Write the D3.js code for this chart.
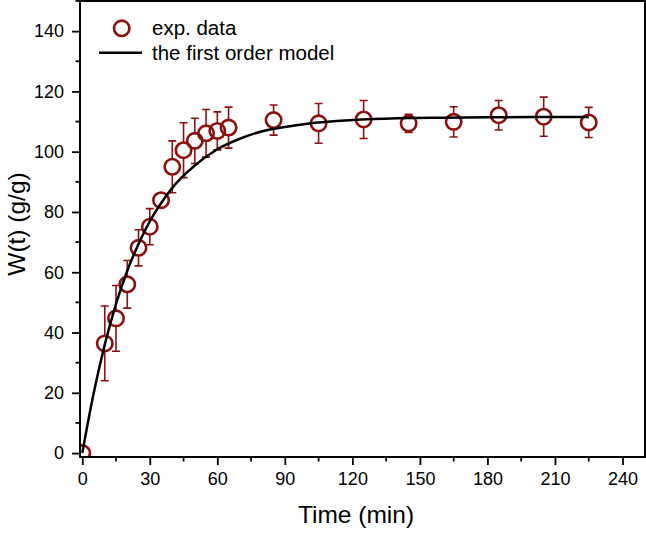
<!DOCTYPE html>
<html>
<head>
<meta charset="utf-8">
<script src="https://cdn.jsdelivr.net/npm/d3@7"></script>
<style>
  body { margin: 0; background: #fff; }
  text { font-family: "Liberation Sans", Arial, sans-serif; }
</style>
</head>
<body>
<script>
// experimental swelling data
var time = [0, 10, 15, 20, 25, 30, 35, 40, 45, 50, 55, 60, 65, 85, 105, 125, 145, 165, 185, 205, 225];
var swelling = [0, 36.4, 44.7, 56.0, 68.1, 75.1, 83.9, 95.0, 100.5, 103.6, 106.1, 106.9, 108.0, 110.5, 109.4, 110.7, 109.4, 109.9, 112.1, 111.6, 109.7];
var errors = [0, 12.4, 10.9, 7.9, 6.0, 6.0, 2.5, 8.6, 9.1, 7.5, 7.9, 6.3, 6.8, 5.0, 6.6, 6.3, 3.0, 5.0, 4.9, 6.5, 5.0];

// first order model curve
var modelTime = [0, 5, 10, 15, 20, 25, 30, 35, 40, 50, 60, 70, 80, 90, 100, 120, 140, 160, 180, 200, 225];
var modelW = [0, 19.6, 36.0, 49.5, 60.5, 69.4, 76.9, 82.9, 88.0, 95.4, 100.8, 104.3, 106.8, 108.2, 109.3, 110.5, 111.1, 111.3, 111.4, 111.5, 111.5];

var xTicks = [0, 30, 60, 90, 120, 150, 180, 210, 240];
var yTicks = [0, 20, 40, 60, 80, 100, 120, 140];

var w = 646, h = 533;
var pLeft = 80, pRight = 645, pTop = 1, pBottom = 457;
var red = "#8c1010";

var svg = d3.select("body").append("svg")
    .attr("width", w)
    .attr("height", h);

var x = d3.scaleLinear().domain([-1, 250]).range([pLeft, pRight]);
var y = d3.scaleLinear().domain([-1.3, 150]).range([pBottom, pTop]);

svg.append("clipPath").attr("id", "plot")
  .append("rect")
    .attr("x", pLeft).attr("y", pTop)
    .attr("width", pRight - pLeft).attr("height", pBottom - pTop);

var plot = svg.append("g").attr("clip-path", "url(#plot)");

var pts = time.map(function(t, i) { return {t: t, w: swelling[i], e: errors[i]}; });
var r = 7.7;

// error bars (drawn outside of the circle)
var eb = plot.selectAll(".eb").data(pts.filter(function(d) { return d.e > 0; }))
  .enter().append("g")
    .attr("stroke", red)
    .attr("stroke-width", 1.6)
    .attr("fill", "none");

eb.append("path").attr("d", function(d) {
  var cx = x(d.t), cy = y(d.w), hi = y(d.w + d.e), lo = y(d.w - d.e);
  var s = "";
  if (cy - r > hi) s += "M" + cx + "," + (cy - r) + "V" + hi;
  if (cy + r < lo) s += "M" + cx + "," + (cy + r) + "V" + lo;
  s += "M" + (cx - 4) + "," + hi + "H" + (cx + 4);
  s += "M" + (cx - 4) + "," + lo + "H" + (cx + 4);
  return s;
});

plot.selectAll("circle.pt").data(pts)
  .enter().append("circle")
    .attr("class", "pt")
    .attr("cx", function(d) { return x(d.t); })
    .attr("cy", function(d) { return y(d.w); })
    .attr("r", r)
    .attr("fill", "none")
    .attr("stroke", red)
    .attr("stroke-width", 2.6);

var line = d3.line()
    .x(function(d, i) { return x(modelTime[i]); })
    .y(function(d) { return y(d); })
    .curve(d3.curveMonotoneX);

plot.append("path")
    .datum(modelW)
    .attr("d", line)
    .attr("fill", "none")
    .attr("stroke", "black")
    .attr("stroke-width", 2.5);

// axes
var xAxis = svg.append("g")
    .attr("transform", "translate(0," + pBottom + ")")
    .call(d3.axisBottom(x).tickValues(xTicks).tickSize(8).tickPadding(7));
var yAxis = svg.append("g")
    .attr("transform", "translate(" + pLeft + ",0)")
    .call(d3.axisLeft(y).tickValues(yTicks).tickSize(8).tickPadding(8));

[xAxis, yAxis].forEach(function(a) {
  a.select(".domain").remove();
  a.selectAll("line").attr("stroke-width", 1.8);
  a.selectAll("text").attr("font-size", "18px").attr("fill", "black")
    .style("font-family", "'Liberation Sans', Arial, sans-serif");
});

// minor ticks
xTicks.slice(0, -1).forEach(function(t) {
  svg.append("line")
    .attr("x1", x(t + 15)).attr("x2", x(t + 15))
    .attr("y1", pBottom).attr("y2", pBottom + 4.5)
    .attr("stroke", "black").attr("stroke-width", 1.8);
});
yTicks.forEach(function(t) {
  svg.append("line")
    .attr("x1", pLeft - 4.5).attr("x2", pLeft)
    .attr("y1", y(t + 10)).attr("y2", y(t + 10))
    .attr("stroke", "black").attr("stroke-width", 1.8);
});

// frame
svg.append("rect")
    .attr("x", pLeft).attr("y", pTop)
    .attr("width", pRight - pLeft).attr("height", pBottom - pTop)
    .attr("fill", "none")
    .attr("stroke", "black")
    .attr("stroke-width", 2);

// axis titles
svg.append("text")
    .attr("x", 356).attr("y", 523)
    .attr("text-anchor", "middle")
    .attr("font-size", "24.5px")
    .text("Time (min)");

svg.append("text")
    .attr("transform", "translate(25,224) rotate(-90)")
    .attr("text-anchor", "middle")
    .attr("font-size", "24.5px")
    .text("W(t) (g/g)");

// legend
svg.append("circle")
    .attr("cx", 121.7).attr("cy", 28.3).attr("r", r)
    .attr("fill", "none").attr("stroke", red).attr("stroke-width", 2.6);
svg.append("text")
    .attr("x", 152).attr("y", 34.5)
    .attr("font-size", "20.5px")
    .text("exp. data");
svg.append("line")
    .attr("x1", 99).attr("x2", 142).attr("y1", 52.7).attr("y2", 52.7)
    .attr("stroke", "black").attr("stroke-width", 2.5);
svg.append("text")
    .attr("x", 152).attr("y", 60)
    .attr("font-size", "20.5px")
    .text("the first order model");
</script>
</body>
</html>
